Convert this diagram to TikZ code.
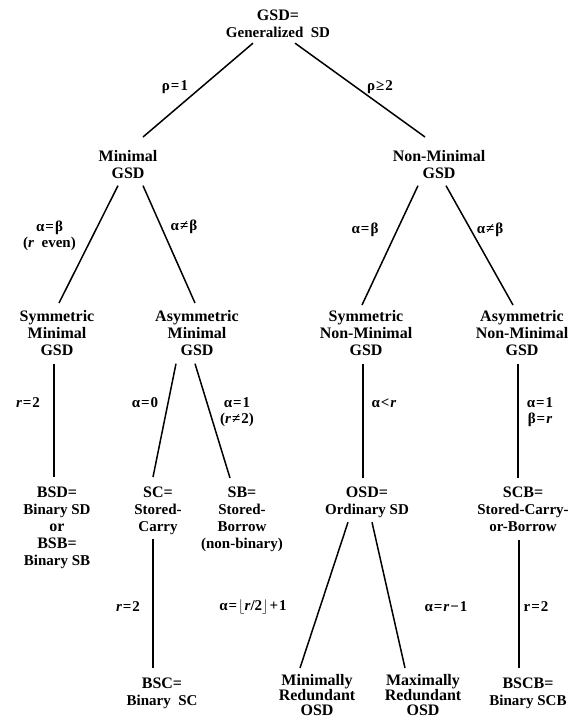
\documentclass[tikz,border=0pt]{standalone}
\usepackage{fontspec}
\setmainfont{Liberation Serif}
\usetikzlibrary{positioning}
\newcommand\subline[1]{{\fontsize{15}{17}\selectfont #1}}
\newcommand\rel[1]{\kern1pt#1\kern1pt}
\tikzset{%
  box/.style={align=center, inner sep=0pt, anchor=north, font=\bfseries\fontsize{16}{17}\selectfont},
  lowbox/.style={box, font=\bfseries\fontsize{16}{15}\selectfont},
  cond/.style={align=center, inner sep=0pt, font=\bfseries\fontsize{15}{16.5}\selectfont},
  link/.style={line width=1.5pt}
}
\begin{document}
\begin{tikzpicture}[x=1pt, y=-1pt]
  \useasboundingbox (0,0) rectangle (578,723);

% levels of the tree
\node [box] (gsd) at (278,10) {GSD=\\\subline{Generalized\ \ SD}};

\node [box] (min) at (128,150) {Minimal\\GSD};
\node [box] (nonmin) at (439,150) {Non-Minimal\\GSD};

\node [box] (symmin) at (57,310) {Symmetric\\Minimal\\GSD};
\node [box] (asymmin) at (197,310) {Asymmetric\\Minimal\\GSD};
\node [box] (symnon) at (366,310) {Symmetric\\Non-Minimal\\GSD};
\node [box] (asymnon) at (522,310) {Asymmetric\\Non-Minimal\\GSD};

\node [box] (bsd) at (57,487) {BSD=\\\subline{Binary SD}\\or\\BSB=\\\subline{Binary SB}};
\node [box] (sc) at (158,487) {SC=\\\subline{Stored-}\\\subline{Carry}};
\node [box] (sb) at (242,487) {SB=\\\subline{Stored-}\\\subline{Borrow}\\\subline{(non-binary)}};
\node [box] (osd) at (367,487) {OSD=\\\subline{Ordinary SD}};
\node [box] (scb) at (523,487) {SCB=\\\subline{Stored-Carry-}\\\subline{or-Borrow}};

\node [box] (bsc) at (162,678) {BSC=\\\subline{Binary\ \ SC}};
\node [lowbox] (minr) at (317,674) {Minimally\\Redundant\\OSD};
\node [lowbox] (maxr) at (423,674) {Maximally\\Redundant\\OSD};
\node [box] (bscb) at (528,678) {BSCB=\\\subline{Binary SCB}};

% connectors: parent / offset at its foot / child / offset at its head
\foreach \a/\ax/\ay/\b/\bx/\by in {
  gsd/-25/5/min/15/-13, gsd/17/5/nonmin/-14/-13,
  min/-10/7/symmin/2/-7, min/15/7/asymmin/-2/-7,
  nonmin/-21/7/symnon/-4/-5, nonmin/7/7/asymnon/-9/-5,
  symmin/-3/8/bsd/-3/-10,
  asymmin/-21/8/sc/-5/-10, asymmin/-2/8/sb/-12/-9,
  symnon/-3/8/osd/-4/-9, asymnon/-4/8/scb/-5/-9,
  sc/-5/4/bsc/-9/-10,
  osd/-19/4/minr/-17/-6, osd/5/4/maxr/-18/-6,
  scb/-4/8/bscb/-9/-10} {
  \draw [link] ([shift={(\ax,\ay)}]\a.south) -- ([shift={(\bx,\by)}]\b.north);
}

% conditions on the branches
\node [cond] (c1) at (175,87) {ρ\rel{=}1};
\node [cond] (c2) at (380,87) {ρ\rel{≥}2};
\node [cond, anchor=east] (c3) at (76,236) {α\rel{=}β\\(\textit{r}\ \ even)};
\node [cond] (c4) at (184,227) {α\rel{≠}β};
\node [cond] (c5) at (365,230) {α\rel{=}β};
\node [cond] (c6) at (490,230) {α\rel{≠}β};
\node [cond] (c7) at (28,403) {\textit{r}\rel{=} 2};
\node [cond] (c8) at (145,403) {α\rel{=} 0};
\node [cond] (c9) at (237,412) {α\rel{=}1\\(\textit{r}\rel{≠}2)};
\node [cond] (c10) at (384,403) {α\rel{<}\textit{r}};
\node [cond] (c11) at (540,412) {α\rel{=}1\\β\rel{=}\textit{r}};
\node [cond] (c12) at (128,607) {\textit{r}\rel{=} 2};
\node [cond] (c13) at (253,607) {α\rel{=}$\lfloor$\textit{r}/2$\rfloor$\rel{+}1};
\node [cond] (c14) at (446,607) {α\rel{=}\textit{r}\rel{−}1};
\node [cond] (c15) at (536,607) {r\rel{=}2};

\end{tikzpicture}
\end{document}
